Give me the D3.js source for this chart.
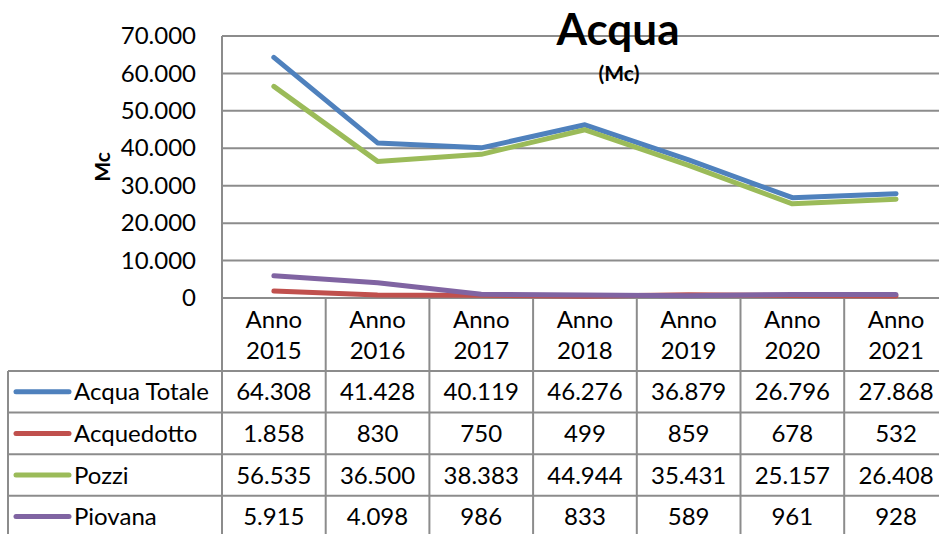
<!DOCTYPE html>
<html>
<head>
<meta charset="utf-8">
<script src="https://cdn.jsdelivr.net/npm/d3@7"></script>
<style>
  body { margin: 0; background: #fff; }
  text { font-family: Lato, "Open Sans", sans-serif; fill: #000; }
</style>
</head>
<body>
<div id="chart-container"></div>
<script>
// ACQUA CHART //

const years = ["2015", "2016", "2017", "2018", "2019", "2020", "2021"];
const seriesNames = ["Acqua Totale", "Acquedotto", "Pozzi", "Piovana"];
const acquaTotale = [64308, 41428, 40119, 46276, 36879, 26796, 27868];
const acquedotto = [1858, 830, 750, 499, 859, 678, 532];
const pozzi = [56535, 36500, 38383, 44944, 35431, 25157, 26408];
const piovana = [5915, 4098, 986, 833, 589, 961, 928];
const yTicks = [0, 10000, 20000, 30000, 40000, 50000, 60000, 70000];

const colors = ["#4F81BD", "#C0504D", "#9BBB59", "#8064A2"];
const seriesValues = [acquaTotale, acquedotto, pozzi, piovana];

// dimensions
const W = 939, H = 534;
const plotLeft = 222, plotTop = 36, plotBottom = 298;
const colWidth = 103.7;
const plotRight = plotLeft + colWidth * years.length;
const headerBottom = 371;
const rowHeight = 41.6;
const tableLeft = 8;
const gridColor = "#8c8c8c";
const fontSize = "24px";

// italian number format: 70.000
const it = d3.formatLocale({ decimal: ",", thousands: ".", grouping: [3], currency: ["", " €"] });
const fmt = it.format(",.0f");

const svg = d3
  .select("#chart-container")
  .append("svg")
  .attr("width", W)
  .attr("height", H);

const x = d3.scaleBand().domain(years).range([plotLeft, plotRight]).padding(0);
const y = d3.scaleLinear().domain([0, 70000]).range([plotBottom, plotTop]);

// gridlines
svg
  .append("g")
  .selectAll("line")
  .data(yTicks)
  .join("line")
  .attr("x1", plotLeft)
  .attr("x2", plotRight)
  .attr("y1", (d) => y(d))
  .attr("y2", (d) => y(d))
  .attr("stroke", gridColor)
  .attr("stroke-width", 2);

// y axis labels
const yAxis = svg
  .append("g")
  .attr("transform", `translate(${plotLeft},0)`)
  .call(d3.axisLeft(y).tickValues(yTicks).tickFormat(fmt).tickSize(0).tickPadding(26));
yAxis.select(".domain").remove();
yAxis.selectAll("text").style("font-family", "Lato").style("font-size", fontSize).attr("fill", "#000");

// axis title
svg
  .append("text")
  .attr("transform", "translate(110,167) rotate(-90)")
  .attr("text-anchor", "middle")
  .style("font-weight", "bold")
  .style("font-size", "21px")
  .text("Mc");

// title
svg
  .append("text")
  .attr("x", 618)
  .attr("y", 45)
  .attr("text-anchor", "middle")
  .style("font-weight", "bold")
  .style("font-size", "44px")
  .text("Acqua");
svg
  .append("text")
  .attr("x", 619)
  .attr("y", 81)
  .attr("text-anchor", "middle")
  .style("font-weight", "bold")
  .style("font-size", "21px")
  .text("(Mc)");

// TABLE
const tableBottom = headerBottom + rowHeight * seriesNames.length;
const table = svg.append("g").attr("stroke", gridColor).attr("stroke-width", 2);

// vertical column lines (incl. left axis)
table
  .selectAll("line.col")
  .data(d3.range(years.length + 1))
  .join("line")
  .attr("class", "col")
  .attr("x1", (i) => plotLeft + i * colWidth)
  .attr("x2", (i) => plotLeft + i * colWidth)
  .attr("y1", (i) => (i === 0 ? plotTop : plotBottom))
  .attr("y2", tableBottom);

// horizontal row lines
table
  .selectAll("line.row")
  .data(d3.range(seriesNames.length + 1))
  .join("line")
  .attr("class", "row")
  .attr("x1", tableLeft)
  .attr("x2", plotRight)
  .attr("y1", (i) => headerBottom + i * rowHeight)
  .attr("y2", (i) => headerBottom + i * rowHeight);

table
  .append("line")
  .attr("x1", tableLeft)
  .attr("x2", tableLeft)
  .attr("y1", headerBottom)
  .attr("y2", tableBottom);

// header labels
const header = svg
  .append("g")
  .selectAll("text")
  .data(years)
  .join("text")
  .attr("text-anchor", "middle")
  .style("font-size", fontSize);
header
  .append("tspan")
  .attr("x", (d) => x(d) + x.bandwidth() / 2)
  .attr("y", 328)
  .text("Anno");
header
  .append("tspan")
  .attr("x", (d) => x(d) + x.bandwidth() / 2)
  .attr("y", 359)
  .text((d) => d);

// table rows
seriesNames.forEach(function (name, i) {
  const rowMid = headerBottom + i * rowHeight + rowHeight / 2;
  const row = svg.append("g");

  row
    .append("line")
    .attr("x1", 16)
    .attr("x2", 69)
    .attr("y1", rowMid)
    .attr("y2", rowMid)
    .attr("stroke", colors[i])
    .attr("stroke-width", 5)
    .attr("stroke-linecap", "round");

  row
    .append("text")
    .attr("x", 74)
    .attr("y", rowMid + 8.5)
    .style("font-size", fontSize)
    .text(name);

  row
    .selectAll("text.val")
    .data(seriesValues[i])
    .join("text")
    .attr("class", "val")
    .attr("x", (d, j) => x(years[j]) + x.bandwidth() / 2)
    .attr("y", rowMid + 8.5)
    .attr("text-anchor", "middle")
    .style("font-size", fontSize)
    .text((d) => fmt(d));
});

// lines
const line = d3
  .line()
  .x((d, j) => x(years[j]) + x.bandwidth() / 2)
  .y((d) => y(d));

svg
  .append("g")
  .selectAll("path")
  .data(seriesValues)
  .join("path")
  .attr("d", (d) => line(d))
  .attr("fill", "none")
  .attr("stroke", (d, i) => colors[i])
  .attr("stroke-width", 5)
  .attr("stroke-linecap", "round")
  .attr("stroke-linejoin", "round");
</script>
</body>
</html>
